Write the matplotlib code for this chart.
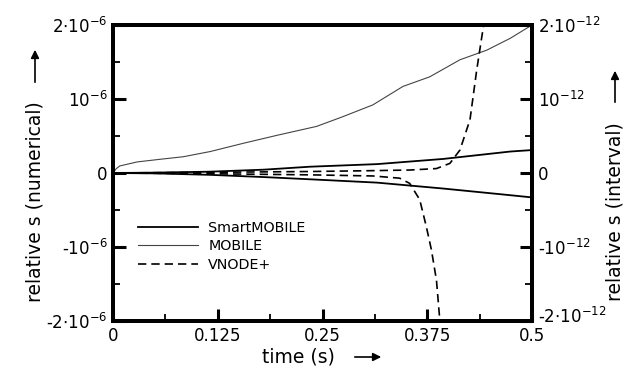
import numpy as np
import matplotlib
matplotlib.use('Agg')
import matplotlib.pyplot as plt
import matplotlib.transforms as mtransforms
from matplotlib.ticker import FixedLocator

plt.rcParams['font.family'] = 'DejaVu Sans'
plt.rcParams['mathtext.default'] = 'regular'

# ---------------- data ----------------
smart_t = [0.0, 0.05, 0.116, 0.18, 0.235, 0.315, 0.394, 0.474, 0.5]
smart_up = [0.0, 0.005, 0.018, 0.045, 0.085, 0.12, 0.19, 0.29, 0.31]   # x 1e-12
smart_lo = [0.0, -0.005, -0.025, -0.055, -0.085, -0.13, -0.21, -0.30, -0.33]

mobile_t = [0.0, 0.004, 0.008, 0.029, 0.056, 0.084, 0.116, 0.155, 0.196, 0.243,
            0.274, 0.31, 0.346, 0.378, 0.414, 0.446, 0.474, 0.5]
mobile_v = [0.0, 0.06, 0.095, 0.15, 0.185, 0.22, 0.29, 0.40, 0.51, 0.63,
            0.76, 0.92, 1.17, 1.30, 1.53, 1.66, 1.82, 2.0]      # x 1e-6

vnode_up_t = [0.0, 0.1, 0.235, 0.30, 0.354, 0.386, 0.402, 0.414, 0.426, 0.434, 0.442, 0.45]
vnode_up_v = [0.0, 0.008, 0.02, 0.03, 0.04, 0.06, 0.13, 0.31, 0.72, 1.39, 1.98, 2.6]
vnode_lo_t = [0.0, 0.1, 0.235, 0.31, 0.342, 0.354, 0.366, 0.374, 0.38, 0.386, 0.39, 0.394]
vnode_lo_v = [0.0, -0.008, -0.025, -0.04, -0.07, -0.14, -0.36, -0.73, -1.04, -1.45, -1.99, -2.5]

x_ticks = [0, 0.125, 0.25, 0.375, 0.5]
x_labels = ['0', '0.125', '0.25', '0.375', '0.5']
y_ticks = [-2, -1, 0, 1, 2]
left_labels = [r'-$2{\cdot}10^{-6}$', r'-$10^{-6}$', '0', r'$10^{-6}$', r'$2{\cdot}10^{-6}$']
right_labels = [r'-$2{\cdot}10^{-12}$', r'-$10^{-12}$', '0', r'$10^{-12}$', r'$2{\cdot}10^{-12}$']

# ---------------- figure ----------------
fig = plt.figure(figsize=(6.29, 3.70), dpi=100)
ax = fig.add_axes([113 / 629, 49 / 370, 419 / 629, 296 / 370])

l1, = ax.plot(smart_t, smart_up, color='black', lw=1.3)
ax.plot(smart_t, smart_lo, color='black', lw=1.3)
l2, = ax.plot(mobile_t, mobile_v, color='#444444', lw=0.8)
l3, = ax.plot(vnode_up_t, vnode_up_v, color='black', lw=1.2, dashes=(5, 3))
ax.plot(vnode_lo_t, vnode_lo_v, color='black', lw=1.2, dashes=(5, 3))

ax.set_xlim(0, 0.5)
ax.set_ylim(-2, 2)

ax.set_xticks(x_ticks)
ax.set_xticklabels(x_labels)
ax.xaxis.set_minor_locator(FixedLocator([0.0625, 0.1875, 0.3125, 0.4375]))
ax.set_yticks(y_ticks)
ax.set_yticklabels(left_labels)
ax.yaxis.set_minor_locator(FixedLocator([-1.5, -0.5, 0.5, 1.5]))

ax.tick_params(which='major', direction='in', length=9, width=2.2, labelsize=12, pad=4)
ax.tick_params(which='minor', direction='in', length=5, width=1.3)
ax.tick_params(axis='both', which='both', top=False, right=False)

ax2 = ax.twinx()
ax2.set_ylim(-2, 2)
ax2.set_yticks(y_ticks)
ax2.set_yticklabels(right_labels)
ax2.yaxis.set_minor_locator(FixedLocator([-1.5, -0.5, 0.5, 1.5]))
ax2.tick_params(which='major', direction='in', length=9, width=2.2, labelsize=12, pad=4)
ax2.tick_params(which='minor', direction='in', length=5, width=1.3)

# lift the lowest right-hand label a little so it sits above "0.5"
lab = ax2.get_yticklabels()[0]
lab.set_transform(lab.get_transform() +
                  mtransforms.ScaledTranslation(0, 4 / 72, fig.dpi_scale_trans))

for a in (ax, ax2):
    for s in a.spines.values():
        s.set_linewidth(2.8)

ax.legend([l1, l2, l3], ['SmartMOBILE', 'MOBILE', 'VNODE+'],
          loc='upper left', bbox_to_anchor=(0.06, 0.338), frameon=False,
          fontsize=10.3, handlelength=4.2, handletextpad=0.7,
          labelspacing=0.3, borderpad=0, borderaxespad=0)

# axis labels with arrows (figure pixels)
fig.text(298 / 629, 13 / 370, 'time (s)', ha='center', va='center', fontsize=13.5)
ax.annotate('', xy=(384, 13), xytext=(352, 13), xycoords='figure pixels',
            arrowprops=dict(arrowstyle='-|>', color='black', lw=1.2, mutation_scale=12))

fig.text(35 / 629, 168 / 370, 'relative s (numerical)', rotation=90,
         ha='center', va='center', fontsize=13.5)
ax.annotate('', xy=(35, 323), xytext=(35, 285), xycoords='figure pixels',
            arrowprops=dict(arrowstyle='-|>', color='black', lw=1.2, mutation_scale=12))

fig.text(615 / 629, 158 / 370, 'relative s (interval)', rotation=90,
         ha='center', va='center', fontsize=13.5)
ax.annotate('', xy=(615, 302), xytext=(615, 265), xycoords='figure pixels',
            arrowprops=dict(arrowstyle='-|>', color='black', lw=1.2, mutation_scale=12))

fig.savefig('out.png', dpi=100)
